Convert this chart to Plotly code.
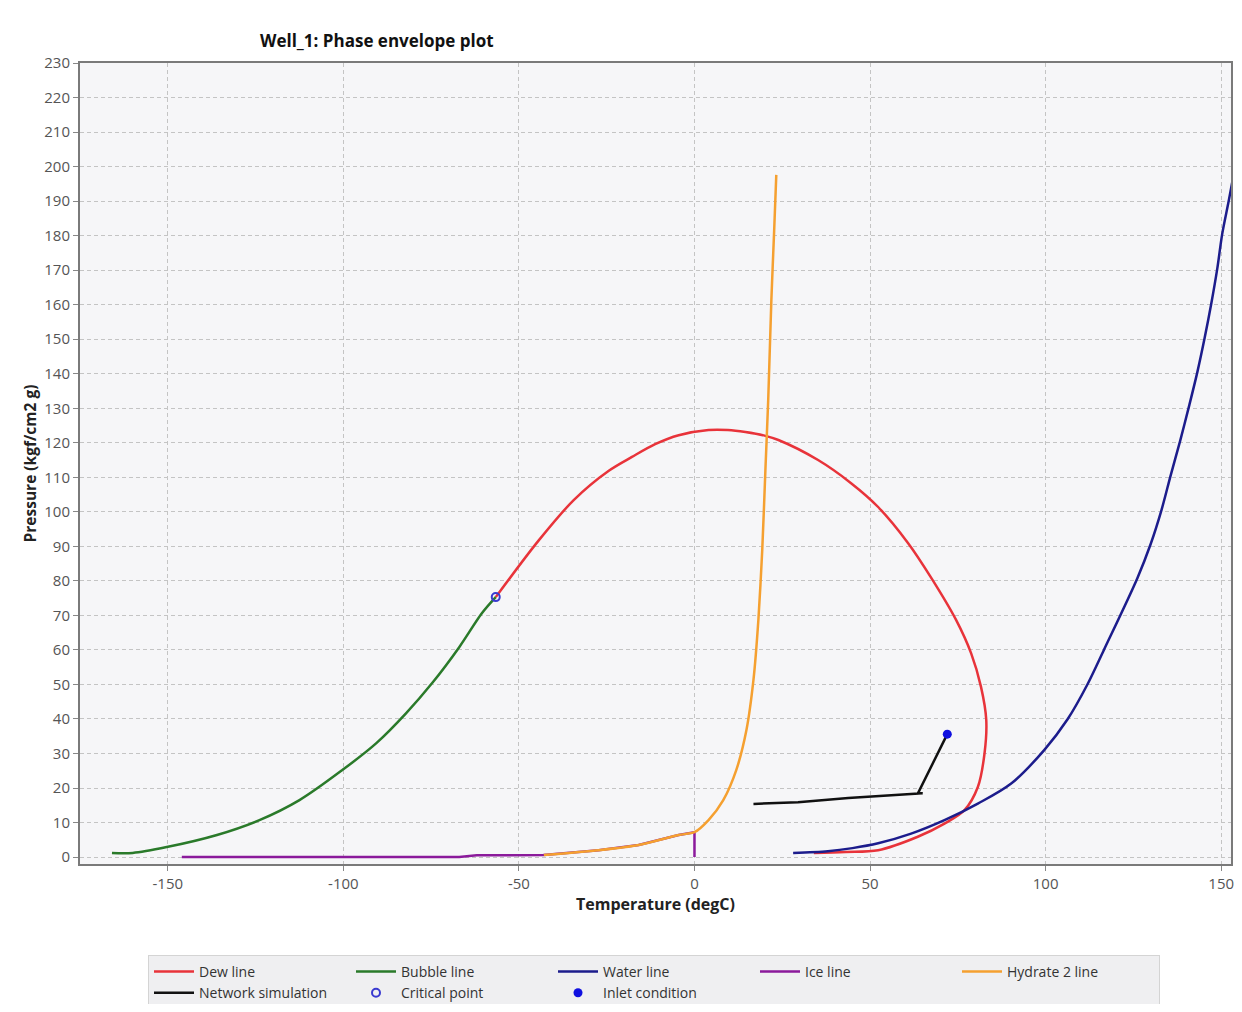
import plotly.graph_objects as go

# ---- data ----
dew_T = [-56.6, -44.3, -34.4, -24.4, -17.8, -11.2, -4.5, 4.0, 9.5, 14.5, 20.2, 23.9, 35.2, 44.6,
         52.3, 60.8, 67.3, 74.5, 78.8, 81.6, 83.1, 82.6, 80.7, 76.9, 71.2, 63.6, 52.3, 43.0, 34.0]
dew_P = [75.3, 91.8, 103.4, 111.9, 115.9, 119.6, 122.2, 123.7, 123.7, 123.1, 122.0, 120.8, 115.0, 108.3,
         101.4, 91.0, 81.1, 68.7, 59.0, 49.3, 39.7, 30.0, 20.3, 13.6, 9.7, 5.9, 2.0, 1.5, 1.2]

bub_T = [-165.9, -160.0, -150.3, -136.0, -123.9, -112.5, -100.3, -90.6, -82.1, -74.7, -67.0, -60.5, -56.6]
bub_P = [1.2, 1.2, 2.9, 6.4, 10.7, 16.5, 25.2, 33.0, 41.7, 50.4, 60.8, 70.7, 75.3]

wat_T = [28.1, 38.0, 45.0, 52.3, 61.7, 71.2, 80.7, 90.2, 99.6, 106.3, 111.9, 116.6, 126.1, 129.9, 133.0, 135.6,
         138.3, 140.8, 143.2, 145.3, 147.2, 148.9, 150.3, 152.2, 153.8]
wat_P = [1.2, 1.7, 2.6, 4.0, 6.8, 10.7, 15.5, 21.3, 31.0, 40.0, 50.0, 60.0, 80.7, 90.6, 100.5, 110.5,
         120.5, 130.4, 140.4, 150.4, 160.4, 170.5, 180.5, 190.3, 199.0]

ice_T = [-146, -67, -62, -43, -27.3, -15.9, -4.5, 0, 0]
ice_P = [0.0, 0.0, 0.5, 0.6, 2, 3.5, 6.4, 7.2, 0]

hyd_T = [-42.9, -27.3, -15.9, -4.5, 0, 4, 8.2, 11.9, 14.8, 16.8, 18.2, 19.3, 20.2, 21, 21.9, 22.7, 23.3]
hyd_P = [0.6, 2, 3.5, 6.4, 7.2, 10.7, 16.5, 25.2, 36.8, 51.3, 68.7, 88.9, 112.1, 132.4, 161.4, 181.6, 197.6]

net_T = [16.8, 29.5, 43.8, 58.0, 65.0, 63.6, 72.0]
net_P = [15.4, 15.9, 17.1, 18.0, 18.5, 18.4, 35.6]

crit_T = [-56.6]
crit_P = [75.3]

inlet_T = [72.0]
inlet_P = [35.6]

x_ticks = [-150, -100, -50, 0, 50, 100, 150]
x_tick_text = ["-150", "-100", "-50", "0", "50", "100", "150"]
y_ticks = list(range(0, 231, 10))

FONT = "Open Sans, Noto Sans, sans-serif"

fig = go.Figure()
fig.add_trace(go.Scatter(x=ice_T, y=ice_P, mode="lines", name="Ice line",
                         line=dict(color="#8b1a9b", width=2.5), legendrank=4))
fig.add_trace(go.Scatter(x=dew_T, y=dew_P, mode="lines", name="Dew line",
                         line=dict(color="#e8333a", width=2.5, shape="spline", smoothing=0.9), legendrank=1))
fig.add_trace(go.Scatter(x=bub_T, y=bub_P, mode="lines", name="Bubble line",
                         line=dict(color="#2a7a2a", width=2.5, shape="spline", smoothing=0.9), legendrank=2))
fig.add_trace(go.Scatter(x=wat_T, y=wat_P, mode="lines", name="Water line",
                         line=dict(color="#1c1c8c", width=2.5, shape="spline", smoothing=0.9), legendrank=3))
fig.add_trace(go.Scatter(x=hyd_T, y=hyd_P, mode="lines", name="Hydrate 2 line",
                         line=dict(color="#f5a030", width=2.5, shape="spline", smoothing=0.7), legendrank=5))
fig.add_trace(go.Scatter(x=net_T, y=net_P, mode="lines", name="Network simulation",
                         line=dict(color="#111111", width=2.5), legendrank=6))
fig.add_trace(go.Scatter(x=crit_T, y=crit_P, mode="markers", name="Critical point",
                         marker=dict(symbol="circle-open", color="#3a3ad0", size=8, line=dict(width=2)),
                         legendrank=7))
fig.add_trace(go.Scatter(x=inlet_T, y=inlet_P, mode="markers", name="Inlet condition",
                         marker=dict(symbol="circle", color="#1010e0", size=9), legendrank=8))

axis_common = dict(
    showline=True, mirror=True, linecolor="#7a7a7a", linewidth=2,
    showgrid=True, gridcolor="#c4c4c4", griddash="4px,3px", gridwidth=1,
    zeroline=False, ticks="outside", ticklen=5, tickcolor="#888888",
    tickfont=dict(family=FONT, size=15, color="#555555"),
    ticklabeloverflow="allow",
)

fig.update_xaxes(range=[-175, 152.8], tickvals=x_ticks, ticktext=x_tick_text,
                 title=dict(text="<b>Temperature (degC)</b>", font=dict(family=FONT, size=16, color="#222222"), standoff=6),
                 **axis_common)
fig.update_yaxes(range=[-2, 230], tickvals=y_ticks,
                 title=dict(text="<b>Pressure (kgf/cm2 g)</b>", font=dict(family=FONT, size=15.5, color="#222222"), standoff=4),
                 **axis_common)

W, H = 1226, 996
fig.update_layout(
    width=W, height=H,
    margin=dict(l=72, r=0, t=55, b=140),
    paper_bgcolor="#ffffff", plot_bgcolor="#f6f6f8",
    font=dict(family=FONT, size=15, color="#333333"),
    title=dict(text="<b>Well_1: Phase envelope plot</b>", x=252/W, xanchor="left",
               y=1 - 33/H, yanchor="middle", font=dict(family=FONT, size=17, color="#111111")),
    showlegend=True,
    legend=dict(orientation="h", x=140/W, xref="container", xanchor="left",
                y=1 - 947/H, yref="container", yanchor="top",
                bgcolor="#efeff1", bordercolor="#d4d4d4", borderwidth=1,
                font=dict(family=FONT, size=14, color="#333333"),
                entrywidth=147, entrywidthmode="pixels", itemwidth=40,
                traceorder="normal", tracegroupgap=0),
)

fig.write_html("out.html")
